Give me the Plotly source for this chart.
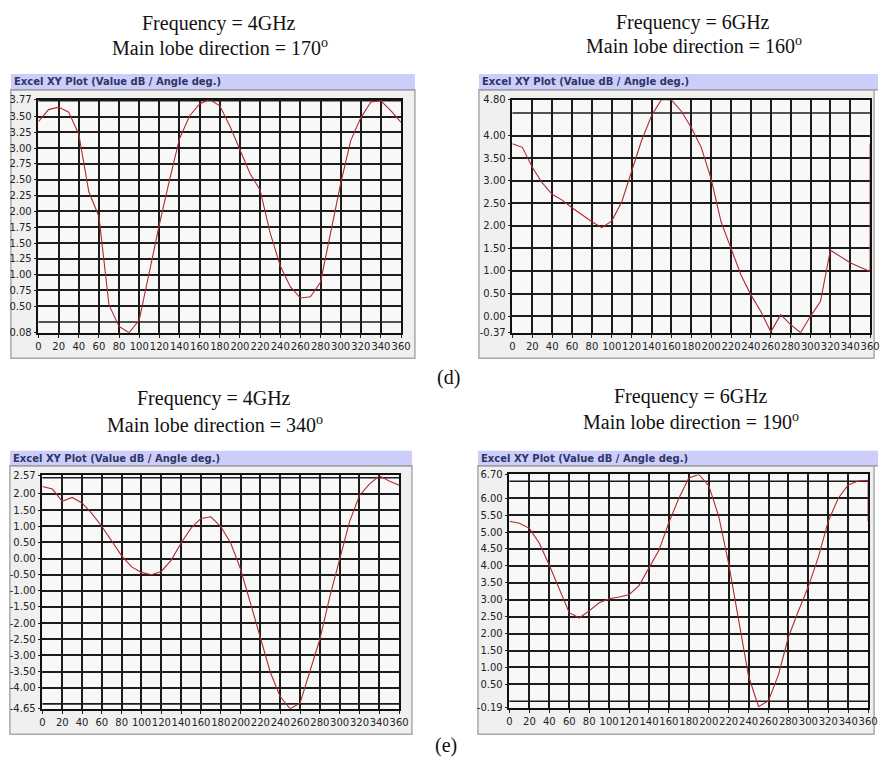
import plotly.graph_objects as go

W, H = 888, 761

# ---------------- data ----------------
angles = list(range(0, 361, 10))
x_ticks = list(range(0, 361, 20))

# (d) 4 GHz, main lobe 170
p1_values = [3.42, 3.61, 3.65, 3.57, 3.22, 2.31, 1.92, 0.52, 0.18, 0.08,
             0.28, 1.04, 1.79, 2.49, 3.15, 3.51, 3.70, 3.77, 3.67, 3.35,
             2.96, 2.60, 2.34, 1.66, 1.14, 0.81, 0.63, 0.65, 0.88, 1.66,
             2.44, 3.12, 3.48, 3.73, 3.75, 3.59, 3.41]
# (d) 6 GHz, main lobe 160 (last point wraps back to the 0 deg value)
p2_values = [3.82, 3.74, 3.30, 2.95, 2.70, 2.57, 2.40, 2.24, 2.09, 1.96,
             2.11, 2.53, 3.19, 3.89, 4.44, 4.80, 4.79, 4.54, 4.18, 3.74,
             3.04, 2.09, 1.50, 0.91, 0.47, 0.10, -0.35, 0.03, -0.19, -0.37,
             0.00, 0.32, 1.46, 1.32, 1.18, 1.08, 0.99, 3.82]
# (e) 4 GHz, main lobe 340
p3_values = [2.23, 2.15, 1.77, 1.89, 1.72, 1.39, 0.99, 0.53, 0.08, -0.26,
             -0.43, -0.50, -0.40, -0.05, 0.48, 0.94, 1.24, 1.29, 0.99, 0.48,
             -0.33, -1.39, -2.45, -3.52, -4.28, -4.65, -4.48, -3.47, -2.50, -1.19,
             -0.05, 1.14, 1.95, 2.30, 2.56, 2.40, 2.27]
# (e) 6 GHz, main lobe 190 (last point wraps back to the 0 deg value)
p4_values = [5.32, 5.26, 5.11, 4.67, 4.02, 3.30, 2.62, 2.46, 2.67, 2.91,
             3.03, 3.08, 3.15, 3.42, 3.92, 4.46, 5.28, 6.00, 6.60, 6.70,
             6.37, 5.47, 4.07, 2.38, 0.74, -0.16, 0.02, 0.79, 1.90, 2.67,
             3.39, 4.26, 5.32, 6.00, 6.39, 6.51, 6.53, 5.32]

p1_angles = angles
p2_angles = angles + [360]
p3_angles = angles
p4_angles = angles + [360]

p1_ytickvals = [0.08, 0.50, 0.75, 1.00, 1.25, 1.50, 1.75, 2.00, 2.25, 2.50, 2.75, 3.00, 3.25, 3.50, 3.77]
p1_yticktext = ["0.08", "0.50", "0.75", "1.00", "1.25", "1.50", "1.75", "2.00", "2.25", "2.50", "2.75", "3.00", "3.25", "3.50", "3.77"]
p1_ygrid_extra = [0.25, 3.75]
p2_ytickvals = [-0.37, 0.0, 0.5, 1.0, 1.5, 2.0, 2.5, 3.0, 3.5, 4.0, 4.80]
p2_yticktext = ["-0.37", "0.00", "0.50", "1.00", "1.50", "2.00", "2.50", "3.00", "3.50", "4.00", "4.80"]
p2_ygrid_extra = [4.5]
p3_ytickvals = [-4.65, -4.0, -3.5, -3.0, -2.5, -2.0, -1.5, -1.0, -0.5, 0.0, 0.5, 1.0, 1.5, 2.0, 2.57]
p3_yticktext = ["-4.65", "-4.00", "-3.50", "-3.00", "-2.50", "-2.00", "-1.50", "-1.00", "-0.50", "0.00", "0.50", "1.00", "1.50", "2.00", "2.57"]
p3_ygrid_extra = [-4.5, 2.5]
p4_ytickvals = [-0.19, 0.5, 1.0, 1.5, 2.0, 2.5, 3.0, 3.5, 4.0, 4.5, 5.0, 5.5, 6.0, 6.70]
p4_yticktext = ["-0.19", "0.50", "1.00", "1.50", "2.00", "2.50", "3.00", "3.50", "4.00", "4.50", "5.00", "5.50", "6.00", "6.70"]
p4_ygrid_extra = [0.0, 6.5]

titles_freq = ["Frequency = 4GHz", "Frequency = 6GHz", "Frequency = 4GHz", "Frequency = 6GHz"]
titles_dir = ["Main lobe direction = 170<sup>o</sup>", "Main lobe direction = 160<sup>o</sup>",
              "Main lobe direction = 340<sup>o</sup>", "Main lobe direction = 190<sup>o</sup>"]
bar_title = "Excel XY Plot (Value dB / Angle deg.)"
panel_labels = ["(d)", "(e)"]

# ---------------- layout geometry (pixels) ----------------
panels = [
    dict(x=p1_angles, y=p1_values, tv=p1_ytickvals, tt=p1_yticktext, gx=p1_ygrid_extra,
         plot=(36, 404, 95, 332), bar=(8, 418, 69, 85), frame=(8, 418, 85, 358),
         t1=(219, 18), t2=(220, 42)),
    dict(x=p2_angles, y=p2_values, tv=p2_ytickvals, tt=p2_yticktext, gx=p2_ygrid_extra,
         plot=(517, 880, 95, 332), bar=(483, 888, 69, 85), frame=(483, 884, 85, 358),
         t1=(700, 17), t2=(701, 40)),
    dict(x=p3_angles, y=p3_values, tv=p3_ytickvals, tt=p3_yticktext, gx=p3_ygrid_extra,
         plot=(40, 402, 477, 714), bar=(7, 415, 452, 467), frame=(7, 415, 467, 740),
         t1=(214, 399), t2=(215, 425)),
    dict(x=p4_angles, y=p4_values, tv=p4_ytickvals, tt=p4_yticktext, gx=p4_ygrid_extra,
         plot=(514, 878, 476, 713), bar=(482, 888, 452, 467), frame=(482, 884, 467, 740),
         t1=(698, 397), t2=(698, 422)),
]
label_pos = [(452, 377), (450, 751)]


def px(x):
    return x / W


def py(y):
    return 1 - y / H


fig = go.Figure()
shapes = []
annotations = []
serif = "Liberation Serif, Times New Roman, serif"
sans = "DejaVu Sans, Verdana, sans-serif"
GRID = "#1c1c1c"

for i, p in enumerate(panels):
    n = i + 1
    xa = "x" if n == 1 else f"x{n}"
    ya = "y" if n == 1 else f"y{n}"
    fig.add_trace(go.Scatter(x=p["x"], y=p["y"], mode="lines",
                             line=dict(color="#b02a30", width=1.1),
                             xaxis=xa, yaxis=ya, showlegend=False,
                             hoverinfo="skip", cliponaxis=True))
    x0, x1, y0, y1 = p["plot"]
    lo, hi = p["tv"][0], p["tv"][-1]
    fig.layout[f"xaxis{n if n > 1 else ''}"] = dict(
        domain=[px(x0), px(x1)], anchor=ya, range=[0, 360],
        tickmode="array", tickvals=x_ticks, ticktext=[str(v) for v in x_ticks],
        tickangle=0, ticks="outside", ticklen=3, tickcolor="#222",
        showgrid=True, gridcolor=GRID, gridwidth=1.6,
        showline=True, mirror=True, linecolor="#111", linewidth=1.6,
        zeroline=False, tickfont=dict(family=sans, size=10, color="#222"),
        fixedrange=True)
    fig.layout[f"yaxis{n if n > 1 else ''}"] = dict(
        domain=[py(y1), py(y0)], anchor=xa, range=[lo, hi],
        tickmode="array", tickvals=p["tv"], ticktext=p["tt"],
        ticks="outside", ticklen=3, tickcolor="#222",
        showgrid=True, gridcolor=GRID, gridwidth=1.6,
        showline=True, mirror=True, linecolor="#111", linewidth=1.6,
        zeroline=False, tickfont=dict(family=sans, size=10, color="#222"),
        fixedrange=True)

    fx0, fx1, fy0, fy1 = p["frame"]
    shapes.append(dict(type="rect", xref="paper", yref="paper", layer="below",
                       x0=px(fx0), x1=px(fx1), y0=py(fy1), y1=py(fy0),
                       fillcolor="#f0f0f0", line=dict(color="#a9a9a9", width=1.5)))
    bx0, bx1, by0, by1 = p["bar"]
    shapes.append(dict(type="rect", xref="paper", yref="paper", layer="below",
                       x0=px(bx0), x1=px(bx1), y0=py(by1), y1=py(by0),
                       fillcolor="#cccdfa", line=dict(width=0)))
    shapes.append(dict(type="line", xref="paper", yref="paper", layer="below",
                       x0=px(bx0), x1=px(bx1), y0=py(by1), y1=py(by1),
                       line=dict(color="#a0a0a0", width=1.5)))
    shapes.append(dict(type="rect", xref="paper", yref="paper", layer="below",
                       x0=px(x0), x1=px(x1), y0=py(y1), y1=py(y0),
                       fillcolor="#f8f8f8", line=dict(width=0)))
    # unlabeled gridlines, placed through the y axis scale
    for gv in p["gx"]:
        shapes.append(dict(type="line", xref=f"{xa} domain", yref=ya, layer="below",
                           x0=0, x1=1, y0=gv, y1=gv,
                           line=dict(color=GRID, width=1.6)))

    annotations.append(dict(text=f"<b>{bar_title}</b>", xref="paper", yref="paper",
                            x=px(bx0 + 1), y=py((by0 + by1) / 2), xanchor="left", yanchor="middle",
                            showarrow=False, font=dict(family=sans, size=10, color="#2d3566")))
    annotations.append(dict(text=titles_freq[i], xref="paper", yref="paper",
                            x=px(p["t1"][0]), y=py(p["t1"][1]), xanchor="center", yanchor="middle",
                            showarrow=False, font=dict(family=serif, size=20, color="#111")))
    annotations.append(dict(text=titles_dir[i], xref="paper", yref="paper",
                            x=px(p["t2"][0]), y=py(p["t2"][1]), xanchor="center", yanchor="middle",
                            showarrow=False, font=dict(family=serif, size=20, color="#111")))

for lab, (lx, ly) in zip(panel_labels, label_pos):
    annotations.append(dict(text=lab, xref="paper", yref="paper", x=px(lx), y=py(ly),
                            xanchor="center", yanchor="middle", showarrow=False,
                            font=dict(family=serif, size=20, color="#111")))

fig.update_layout(width=W, height=H, autosize=False,
                  margin=dict(l=0, r=0, t=0, b=0, pad=0),
                  paper_bgcolor="white", plot_bgcolor="rgba(0,0,0,0)",
                  shapes=shapes, annotations=annotations, showlegend=False)

fig.write_html("out.html", config={"displayModeBar": False},
               post_script="document.body.style.margin='0';document.body.style.overflow='hidden';")
